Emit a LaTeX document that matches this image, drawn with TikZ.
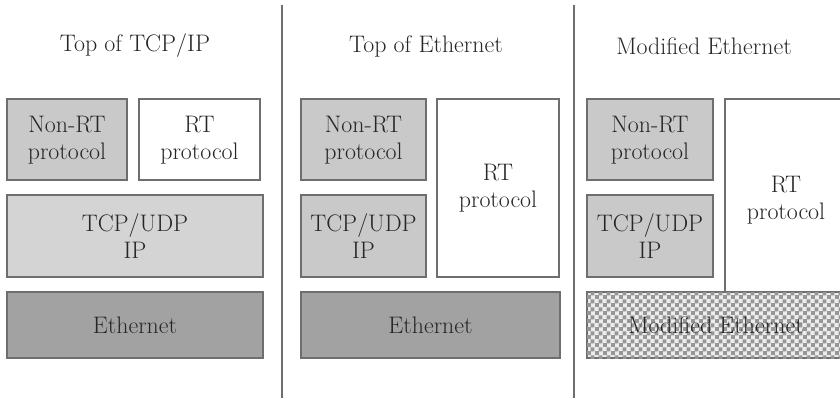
\documentclass[tikz,border=0pt]{standalone}
\usetikzlibrary{patterns}

\definecolor{layerline}{RGB}{110,110,110}
\definecolor{layerlight}{RGB}{201,201,201}
\definecolor{layerpale}{RGB}{212,212,212}
\definecolor{layerdark}{RGB}{162,162,162}
\definecolor{checkdark}{RGB}{150,150,150}
\definecolor{checklight}{RGB}{236,236,236}

\pgfdeclarepatternformonly{modchecker}{\pgfpointorigin}{\pgfqpoint{5.8pt}{5.8pt}}{\pgfqpoint{5.8pt}{5.8pt}}{
  \pgfpathrectangle{\pgfpointorigin}{\pgfqpoint{2.95pt}{2.95pt}}
  \pgfpathrectangle{\pgfqpoint{2.9pt}{2.9pt}}{\pgfqpoint{2.95pt}{2.95pt}}
  \pgfusepath{fill}}

\tikzset{
  layerbox/.style={draw=layerline, line width=0.9pt},
  nonrtbox/.style={layerbox, fill=layerlight},
  widebox/.style={layerbox, fill=layerpale},
  ethbox/.style={layerbox, fill=layerdark},
  rtbox/.style={layerbox, fill=white},
  modbox/.style={layerbox, fill=checklight, postaction={pattern=modchecker, pattern color=checkdark}},
  layertext/.style={align=center, text=black!85, font=\fontsize{17}{19.5}\selectfont},
  paneltitle/.style={text=black!85, font=\fontsize{17}{19.5}\selectfont},
  divider/.style={draw=layerline, line width=1pt}
}

\begin{document}
\begin{tikzpicture}[x=0.025cm, y=-0.025cm]
\useasboundingbox (0,0) rectangle (840,403);

% dividers
\draw[divider] (282,5) -- (282,398);
\draw[divider] (574,5) -- (574,398);

% top of TCP/IP
\node[paneltitle] (t1) at (135,46) {Top of TCP/IP};
\draw[nonrtbox] (7,99) rectangle (127,180);
\node[layertext] (p1nonrt) at (67,140) {Non-RT\\protocol};
\draw[rtbox] (139,99) rectangle (260,180);
\node[layertext] (p1rt) at (199.5,140) {RT\\protocol};
\draw[widebox] (7,195) rectangle (263,277);
\node[layertext] (p1tcp) at (135,236) {TCP/UDP\\IP};
\draw[ethbox] (7,292) rectangle (263,358);
\node[layertext] (p1eth) at (135,325) {Ethernet};

% top of Ethernet
\node[paneltitle] (t2) at (426,46) {Top of Ethernet};
\draw[nonrtbox] (301,99) rectangle (426,180);
\node[layertext] (p2nonrt) at (363.5,140) {Non-RT\\protocol};
\draw[nonrtbox] (301,195) rectangle (426,277);
\node[layertext] (p2tcp) at (363.5,236) {TCP/UDP\\IP};
\draw[rtbox] (437,99) rectangle (559,277);
\node[layertext] (p2rt) at (498,188) {RT\\protocol};
\draw[ethbox] (301,292) rectangle (560,358);
\node[layertext] (p2eth) at (430.5,325) {Ethernet};

% modified Ethernet
\node[paneltitle] (t3) at (704,46) {Modified Ethernet};
\draw[nonrtbox] (587,99) rectangle (713,180);
\node[layertext] (p3nonrt) at (650,140) {Non-RT\\protocol};
\draw[nonrtbox] (587,195) rectangle (713,277);
\node[layertext] (p3tcp) at (650,236) {TCP/UDP\\IP};
\draw[rtbox] (725,99) rectangle (850,292);
\node[layertext] (p3rt) at (786,200) {RT\\protocol};
\draw[modbox] (587,292) rectangle (850,358);
\node[layertext] (p3mod) at (716,325) {Modified Ethernet};
\end{tikzpicture}
\end{document}
